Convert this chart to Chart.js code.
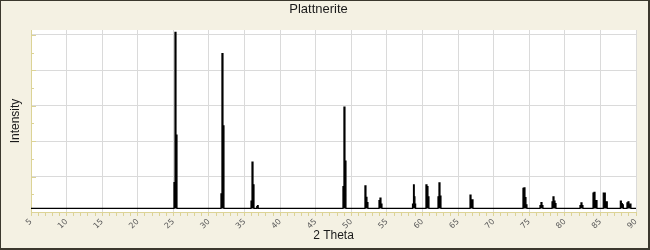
<!DOCTYPE html>
<html><head><meta charset="utf-8">
<script src="https://cdn.jsdelivr.net/npm/chart.js@4/dist/chart.umd.min.js"></script>
<style>
html,body{margin:0;padding:0;background:#fff;}
#wrap{position:relative;width:650px;height:250px;box-sizing:border-box;border-style:solid;border-color:#3b382e;border-width:1px 2px 2px 1px;background:#f4f1e3;}
canvas{display:block;}
</style></head><body>
<div id="wrap"><canvas id="c" width="647" height="247"></canvas></div>
<script>
const chartTitle = 'Plattnerite';
const xAxisTitle = '2 Theta';
const yAxisTitle = 'Intensity';
const xTickLabels = ['5','10','15','20','25','30','35','40','45','50','55','60','65','70','75','80','85','90'];
const baselineLevel = 2;

// Diffractogram (2θ in degrees, intensity in grid units)
const twoTheta = [
  5,
  25.09, 25.23, 25.37, 25.51,
  31.69, 31.83, 31.97, 32.11,
  35.91, 36.05, 36.19, 36.33, 36.72, 36.82, 36.92,
  48.83, 48.97, 49.11, 49.25,
  51.92, 52.06, 52.20, 52.34,
  53.89, 54.03, 54.17, 54.31,
  58.60, 58.74, 58.84, 58.94, 59.04,
  60.49, 60.63, 60.77, 60.91,
  62.18, 62.32, 62.46, 62.60,
  66.68, 66.82, 66.96, 67.10,
  74.12, 74.26, 74.40, 74.54, 74.68,
  76.51, 76.65, 76.79, 76.93,
  78.20, 78.34, 78.48, 78.62, 78.76,
  82.13, 82.27, 82.41, 82.55,
  83.96, 84.10, 84.24, 84.38, 84.52,
  85.40, 85.54, 85.68, 85.82, 85.96,
  87.80, 87.94, 88.08, 88.22,
  88.73, 88.87, 89.01, 89.15, 89.29,
  90
];
const intensity = [
  2,
  16.6, 101.5, 43.5, 2,
  10.2, 89.4, 48.6, 2,
  6.2, 28.2, 15.4, 2, 3.0, 3.6, 2,
  14.3, 59.2, 28.8, 2,
  14.7, 8.3, 5.3, 2,
  6.5, 7.9, 4.5, 2,
  4.4, 15.3, 8.6, 4.4, 2,
  15.3, 14.3, 8.5, 2,
  8.6, 16.4, 9.0, 2,
  9.6, 6.8, 6.8, 2,
  13.4, 13.6, 8.1, 4.0, 2,
  3.6, 5.3, 3.6, 2,
  5.8, 8.5, 6.2, 4.7, 2,
  3.6, 5.1, 3.6, 2,
  10.7, 11.1, 6.4, 6.4, 2,
  10.7, 10.7, 5.8, 5.8, 2,
  6.2, 4.7, 4.1, 2,
  5.1, 5.8, 4.4, 4.4, 2,
  2
];

const AXIS_YELLOW = '#dcd396';
const GRID_GRAY = '#dadada';

const plotBg = {
  id: 'plotBg',
  beforeDraw(chart) {
    const {ctx, chartArea: a} = chart;
    ctx.save();
    ctx.fillStyle = '#ffffff';
    ctx.fillRect(a.left, a.top, a.right - a.left, a.bottom - a.top);
    ctx.restore();
  }
};
const yInnerTicks = {
  id: 'yInnerTicks',
  afterDraw(chart) {
    const {ctx, chartArea: a} = chart;
    const ys = chart.scales.y;
    ctx.save();
    ctx.strokeStyle = AXIS_YELLOW;
    ctx.lineWidth = 1;
    ys.ticks.forEach(t => {
      if (t.value <= 0) return;
      const py = Math.round(ys.getPixelForValue(t.value)) + 0.5;
      const len = (t.value % 20 === 0) ? 5 : 3;
      ctx.beginPath();
      ctx.moveTo(a.left, py);
      ctx.lineTo(a.left + len, py);
      ctx.stroke();
    });
    ctx.restore();
  }
};

new Chart(document.getElementById('c'), {
  type: 'line',
  data: {
    datasets: [{
      data: twoTheta.map((x, i) => ({x: x, y: intensity[i]})),
      borderColor: '#000000',
      backgroundColor: '#000000',
      borderWidth: 1.2,
      pointRadius: 0,
      stepped: 'before',
      fill: {value: baselineLevel}
    }]
  },
  options: {
    responsive: false,
    animation: false,
    events: [],
    layout: {padding: {left: 0, right: 12, top: 0, bottom: 0}},
    plugins: {
      legend: {display: false},
      tooltip: {enabled: false},
      filler: {propagate: false},
      title: {
        display: true,
        text: chartTitle,
        color: '#1a1a1a',
        font: {family: 'Liberation Sans', size: 13, weight: 'normal'},
        padding: {top: 1, bottom: 12.4}
      }
    },
    scales: {
      x: {
        type: 'linear',
        min: 5, max: 90,
        afterFit: s => { s.height = 36; },
        border: {display: true, color: AXIS_YELLOW, width: 1},
        grid: {
          color: c => (c.tick && c.tick.value % 5 === 0 && c.tick.value > 5) ? GRID_GRAY : 'rgba(0,0,0,0)',
          tickColor: AXIS_YELLOW,
          tickLength: 4,
          drawTicks: true
        },
        ticks: {
          stepSize: 1,
          autoSkip: false,
          minRotation: 45, maxRotation: 45,
          padding: 1,
          color: '#5a5a5a',
          font: {family: 'DejaVu Sans', size: 8},
          callback: v => xTickLabels.includes(String(v)) ? String(v) : ''
        },
        title: {
          display: true,
          text: xAxisTitle,
          color: '#1a1a1a',
          font: {family: 'Liberation Sans', size: 12},
          padding: {top: 0, bottom: 4.8}
        }
      },
      y: {
        min: 0, max: 102.8,
        afterFit: s => { s.width = 30; },
        border: {display: true, color: AXIS_YELLOW, width: 1},
        grid: {
          color: c => (c.tick && c.tick.value % 20 === 0 && c.tick.value > 0) ? GRID_GRAY : 'rgba(0,0,0,0)',
          drawTicks: false
        },
        ticks: {stepSize: 10, display: false, includeBounds: false},
        title: {
          display: true,
          text: yAxisTitle,
          color: '#1a1a1a',
          font: {family: 'Liberation Sans', size: 12},
          padding: {top: 7.8, bottom: 0}
        }
      }
    }
  },
  plugins: [plotBg, yInnerTicks]
});
</script>
</body></html>
